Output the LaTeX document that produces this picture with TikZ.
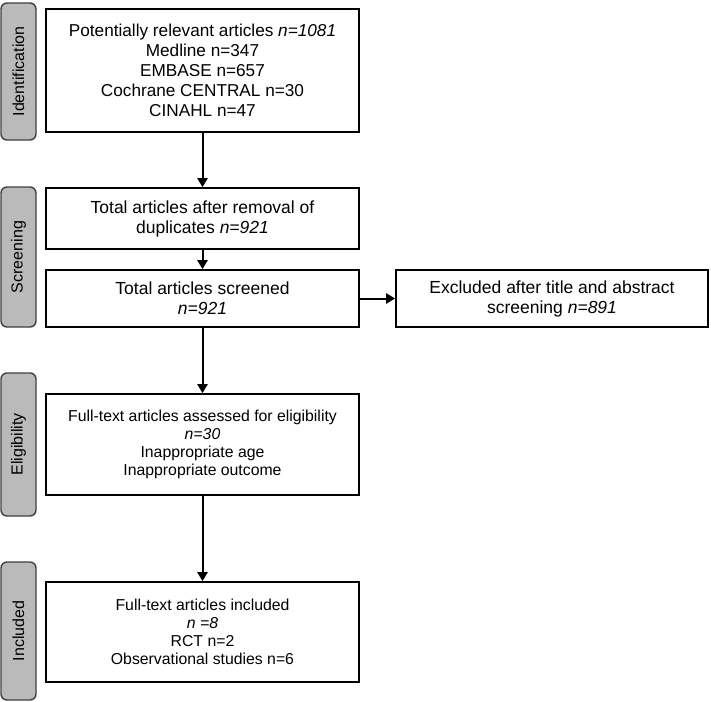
\documentclass[tikz,border=0pt]{standalone}
\usepackage{fontspec}
\setmainfont{Liberation Sans}
\usetikzlibrary{arrows.meta}
\begin{document}
\begin{tikzpicture}[x=1pt,y=-1pt,
  box/.style={draw=black, line width=1.6pt, fill=white, align=center, inner sep=0pt, font=\fontsize{17.5}{20}\selectfont},
  tab/.style={draw=black!75, line width=1.4pt, fill=black!27, rounded corners=6pt, minimum width=35pt, inner sep=0pt},
  tabtext/.style={rotate=90, font=\fontsize{16}{18}\selectfont},
  arr/.style={line width=2pt, -{Triangle[length=9pt,width=10pt]}}]
\useasboundingbox (0,0) rectangle (711,701);
% side tabs
\node[tab, minimum height=137pt] (tid) at (18.5,71.5) {};
\node[tabtext] at (tid.center) {Identification};
\node[tab, minimum height=140pt] (tsc) at (18.5,257) {};
\node[tabtext] at (tsc.center) {Screening};
\node[tab, minimum height=143pt] (tel) at (18.5,444.5) {};
\node[tabtext] at (tel.center) {Eligibility};
\node[tab, minimum height=138pt] (tin) at (18.5,631) {};
\node[tabtext] at (tin.center) {Included};
% boxes
\node[box, minimum width=313pt, minimum height=123pt, font=\fontsize{17.2}{20}\selectfont] (b1) at (202.5,70.5)
  {Potentially relevant articles \textit{n=1081}\\Medline n=347\\EMBASE n=657\\Cochrane CENTRAL n=30\\CINAHL n=47};
\node[box, minimum width=313pt, minimum height=61pt] (b2) at (202.5,218.5)
  {Total articles after removal of\\duplicates \textit{n=921}};
\node[box, minimum width=313pt, minimum height=57pt] (b3) at (202.5,298.5)
  {Total articles screened\\\textit{n=921}};
\node[box, minimum width=312pt, minimum height=57pt] (ex) at (552,298.5)
  {Excluded after title and abstract\\screening \textit{n=891}};
\node[box, minimum width=313pt, minimum height=101pt, font=\fontsize{15.8}{18}\selectfont] (b4) at (202.5,444.5)
  {Full-text articles assessed for eligibility\\\textit{n=30}\\Inappropriate age\\Inappropriate outcome};
\node[box, minimum width=313pt, minimum height=100pt, font=\fontsize{15.8}{18}\selectfont] (b5) at (202.5,632)
  {Full-text articles included\\\textit{n =8}\\RCT n=2\\Observational studies n=6};
% arrows
\draw[arr] (b1) -- (b2);
\draw[arr] (b2) -- (b3);
\draw[arr] (b3) -- (ex);
\draw[arr] (b3) -- (b4);
\draw[arr] (b4) -- (b5);
\end{tikzpicture}
\end{document}
